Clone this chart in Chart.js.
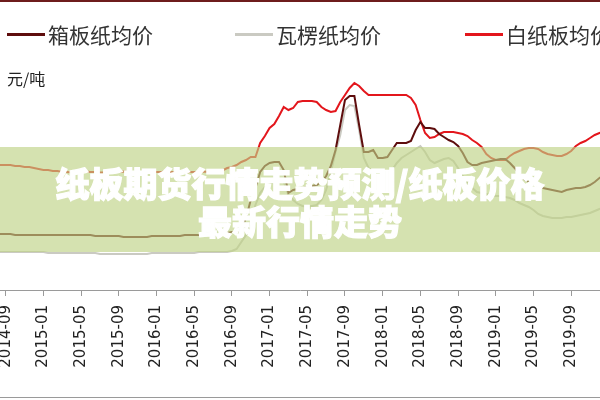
<!DOCTYPE html>
<html>
<head>
<meta charset="utf-8">
<script src="https://cdn.jsdelivr.net/npm/chart.js@4.4.1/dist/chart.umd.min.js"></script>
<style>
  body { margin: 0; background: #fff; }
  #wrap { position: relative; width: 600px; height: 400px; overflow: hidden; font-family: "Noto Sans CJK SC", sans-serif; }
  #wrap canvas { position: absolute; left: 0; top: 0; }
  .topline { position: absolute; left: 0; top: 0; width: 600px; height: 2px; background: #6e1c1c; }
  .botline { position: absolute; left: 0; top: 397px; width: 600px; height: 1px; background: #9a9a9a; }
  .leg { position: absolute; top: 22px; height: 24px; line-height: 24px; font-size: 21px; color: #333; white-space: nowrap; }
  .leg i { position: absolute; left: 0; top: 11px; width: 38px; height: 3px; }
  .leg span { margin-left: 41px; }
  .unit { position: absolute; left: 7px; top: 66px; font-size: 16px; color: #222; }
  .banner { position: absolute; left: 0; top: 147px; width: 600px; height: 105px; background: rgba(191,211,134,0.65);
            color: #fff; font-size: 34px; font-weight: 900; line-height: 38px; text-align: center;
            -webkit-text-stroke: 1.2px #fff;
            display: flex; flex-direction: column; justify-content: center; padding-top: 4px; box-sizing: border-box; }
</style>
</head>
<body>
<div id="wrap">
  <canvas id="myChart" width="600" height="400"></canvas>
  <div class="topline"></div>
  <div class="botline"></div>
  <div class="leg" style="left:7px"><i style="background:#5e0d0d"></i><span>箱板纸均价</span></div>
  <div class="leg" style="left:235px"><i style="background:#cacac2"></i><span>瓦楞纸均价</span></div>
  <div class="leg" style="left:465px"><i style="background:#e3161c"></i><span>白纸板均价</span></div>
  <div class="unit">元/吨</div>
  <div class="banner"><div>纸板期货行情走势预测/纸板价格</div><div>最新行情走势</div></div>
</div>
<script>
// half-month periods from 2014-08 to 2019-12 (first/second half of each month)
const startYear = 2014, startMonth = 8, nMonths = 65;
const periods = [];
for (let i = 0; i < nMonths; i++) {
  const y = startYear + Math.floor((startMonth - 1 + i) / 12);
  const m = (startMonth - 1 + i) % 12 + 1;
  const ym = y + '-' + String(m).padStart(2, '0');
  periods.push(ym + '上', ym + '下');
}

const tickLabels = ['2014-09','2015-01','2015-05','2015-09','2016-01','2016-05','2016-09','2017-01',
  '2017-05','2017-09','2018-01','2018-05','2018-09','2019-01','2019-05','2019-09'];

// 箱板纸均价 (元/吨)
const boxboard = [
  2980,2980,2980,2980,2960,2960,2960,2960,2960,2960,2960,2960,2960,2960,2960,2960,2960,2960,2960,2960,
  2960,2940,2940,2940,2940,2940,2940,2920,2920,2920,2920,2920,2920,2940,2940,2940,2940,2940,2940,2940,
  2960,2960,2960,2960,2960,2980,2980,2980,2980,3000,3020,3020,3080,3300,3660,3900,4220,4340,4400,4420,
  4420,4260,3800,3860,3880,3900,3920,3940,3960,4020,4140,4340,4660,5160,5660,5740,5740,5160,4620,4620,
  4660,4500,4500,4520,4660,4800,4800,4800,4840,5060,5220,5100,5100,5080,4980,4920,4860,4820,4740,4600,
  4420,4360,4360,4400,4420,4440,4460,4480,4480,4400,4300,4180,4080,4020,3980,3940,3900,3880,3860,3840,
  3820,3860,3880,3900,3900,3920,3960,4020,4100,4160
];
// 瓦楞纸均价 (元/吨)
const corrugated = [
  2620,2620,2620,2620,2620,2620,2620,2620,2620,2620,2620,2600,2600,2600,2600,2600,2600,2600,2600,2600,
  2600,2600,2580,2580,2580,2580,2580,2580,2580,2580,2580,2580,2580,2600,2600,2600,2600,2600,2600,2600,
  2600,2600,2600,2620,2620,2620,2620,2620,2620,2620,2640,2680,2820,2960,3180,3560,3800,3920,3980,4020,
  4060,4020,3760,3660,3580,3540,3520,3540,3560,3660,3860,4220,4620,4960,5460,5560,5540,5060,4500,4300,
  4240,4220,4220,4220,4260,4400,4500,4560,4620,4680,4740,4620,4460,4400,4440,4480,4500,4440,4300,4140,
  4000,3900,3820,3800,3780,3760,3740,3740,3720,3700,3660,3600,3560,3520,3460,3380,3340,3320,3300,3300,
  3300,3320,3320,3340,3360,3380,3400,3440,3480,3500
];
// 白纸板均价 (元/吨)
const whiteboard = [
  4360,4360,4360,4360,4340,4340,4320,4320,4300,4280,4260,4260,4240,4240,4220,4220,4210,4220,4220,4230,
  4220,4220,4210,4210,4220,4220,4220,4230,4220,4210,4220,4220,4220,4210,4220,4220,4230,4220,4220,4220,
  4210,4220,4220,4220,4230,4220,4220,4230,4250,4300,4320,4360,4420,4460,4520,4520,4800,4940,5100,5180,
  5340,5520,5460,5500,5620,5640,5640,5640,5620,5520,5460,5420,5440,5620,5760,5900,6000,5940,5840,5760,
  5760,5760,5760,5760,5760,5760,5760,5760,5700,5560,5260,5000,4900,4920,4980,5020,5020,5020,5000,4980,
  4940,4860,4800,4720,4580,4500,4460,4460,4460,4540,4600,4640,4680,4700,4700,4680,4620,4580,4560,4540,
  4540,4580,4640,4740,4800,4840,4900,4960,5000,5020
];

// x position of a period = months since 2014-08
const pts = arr => arr.map((v, i) => ({ x: i / 2, y: v, period: periods[i] }));
const monthPos = s => (Number(s.slice(0, 4)) - startYear) * 12 + Number(s.slice(5, 7)) - startMonth;

const config = {
  type: 'line',
  data: {
    datasets: [
      { label: '箱板纸均价', data: pts(boxboard), borderColor: '#5e0d0d', borderWidth: 2, pointRadius: 0 },
      { label: '瓦楞纸均价', data: pts(corrugated), borderColor: '#cacac2', borderWidth: 2, pointRadius: 0 },
      { label: '白纸板均价', data: pts(whiteboard), borderColor: '#e3161c', borderWidth: 2, pointRadius: 0 }
    ]
  },
  options: {
    responsive: false,
    animation: false,
    layout: { padding: { top: 50, bottom: 30, left: 0, right: 0 } },
    plugins: { legend: { display: false }, tooltip: { enabled: false } },
    scales: {
      x: {
        type: 'linear',
        min: 0.395,
        max: 64.06,
        afterBuildTicks: s => { s.ticks = tickLabels.map(t => ({ value: monthPos(t) })); },
        afterFit: s => { s.height = 80; s.paddingLeft = 0; s.paddingRight = 0; },
        border: { display: true, color: '#9a9a9a', width: 1 },
        grid: { drawOnChartArea: false, drawTicks: true, tickLength: 6, color: '#9a9a9a' },
        ticks: {
          autoSkip: false,
          minRotation: 90,
          maxRotation: 90,
          padding: 9,
          color: '#222',
          font: { family: 'DejaVu Sans', size: 15 },
          callback: v => tickLabels.find(t => monthPos(t) === v) || ''
        }
      },
      y: {
        display: false,
        min: 1860,
        max: 6660
      }
    }
  }
};

const myChart = new Chart(document.getElementById('myChart'), config);
</script>
</body>
</html>
